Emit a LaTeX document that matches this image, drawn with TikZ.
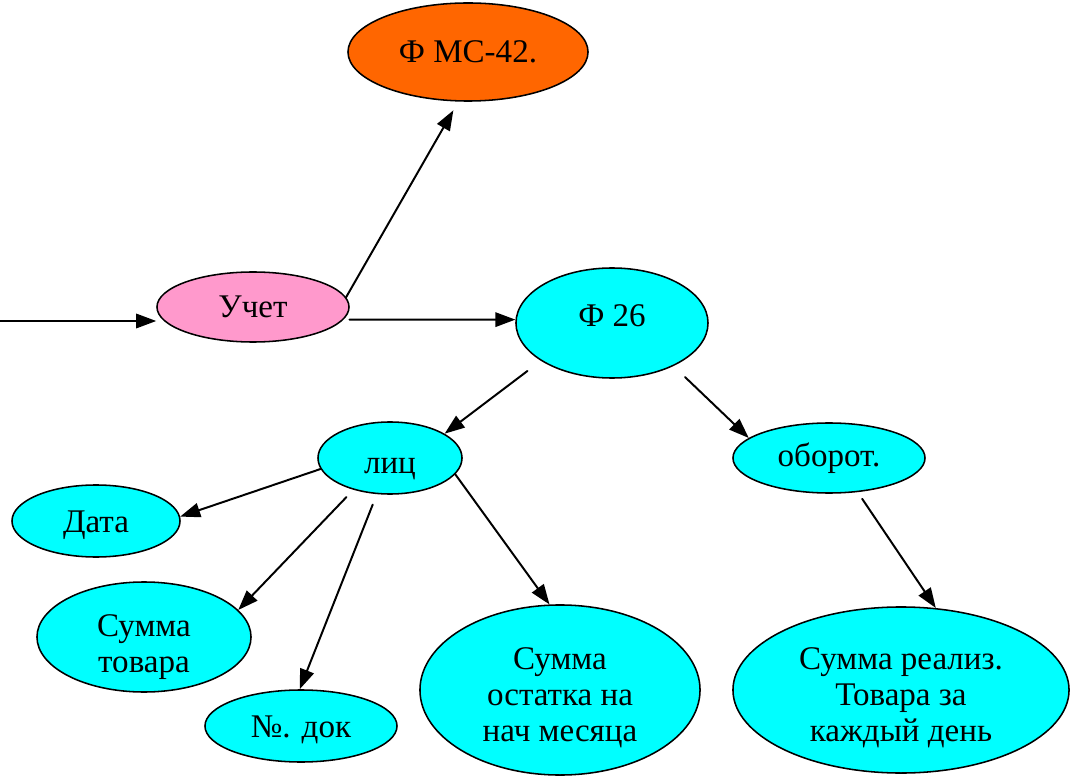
\documentclass[tikz,border=0pt]{standalone}
\usepackage{fontspec}
\setmainfont{Liberation Serif}
\newfontfamily\ovalfont{Liberation Serif}
\usetikzlibrary{shapes.geometric}
\usetikzlibrary{arrows.meta}
\definecolor{fmsorange}{HTML}{FF6600}
\definecolor{uchetpink}{HTML}{FF99CC}
\definecolor{ovalcyan}{HTML}{00FFFF}
\tikzstyle{every node}=[font=\ovalfont\fontsize{23.5}{25.5}\selectfont]
\tikzstyle{every path}=[line width=1.4pt,line cap=round,line join=round]
\tikzstyle{oval}=[ellipse,draw,line width=1.1pt,fill=ovalcyan,inner sep=0pt,align=center]
\tikzstyle{arr}=[-{Triangle[length=0.5cm,width=0.36cm]}]
\newcommand{\ovaltext}[2][0cm]{\raisebox{#1}[\height][\depth]{\begin{tabular}{@{}c@{}}#2\end{tabular}}}

\begin{document}
\begin{tikzpicture}[x=0.025cm,y=-0.025cm]
  \useasboundingbox (0,0) rectangle (1078,780);
  % top part
  \node[oval,fill=fmsorange,minimum width=6cm,minimum height=2.45cm] (fms) at (468,52) {Ф МС-42.};
  \node[oval,fill=uchetpink,minimum width=4.8cm,minimum height=1.75cm] (uchet) at (253,307) {Учет};
  \node[oval,minimum width=4.8cm,minimum height=2.75cm] (f26) at (612,323) {\ovaltext[0.1cm]{Ф 26}};
  % middle row
  \node[oval,minimum width=3.6cm,minimum height=1.8cm] (lic) at (390,458) {\ovaltext[-0.2cm]{лиц}};
  \node[oval,minimum width=4.8cm,minimum height=1.75cm] (oborot) at (829,458) {оборот.};
  % bottom part
  \node[oval,minimum width=4.2cm,minimum height=1.8cm] (data) at (96,521) {\ovaltext[-0.1cm]{Дата}};
  \node[oval,minimum width=5.35cm,minimum height=2.75cm] (sumtov) at (144,637) {\ovaltext[-0.25cm]{Сумма\\товара}};
  \node[oval,minimum width=4.8cm,minimum height=1.8cm] (nomdok) at (301,726) {\ovaltext[-0.1cm]{№. док}};
  \node[oval,minimum width=7cm,minimum height=4.25cm] (sumost) at (560,690) {\ovaltext[-0.2cm]{Сумма\\остатка на\\нач месяца}};
  \node[oval,minimum width=8.4cm,minimum height=4.15cm] (sumreal) at (901,690) {\ovaltext[-0.2cm]{Сумма реализ.\\Товара за\\каждый день}};
  \coordinate (in) at (0,321);

  \draw[arr] (in) -- (in -| uchet.west);
  \draw[arr,shorten >=0.25cm] (uchet.6) -- (fms.259);
  \draw[arr,shorten <=0.15cm] (uchet.352) -- (f26.178);
  \draw[arr,shorten <=0.42cm] (f26.208) -- (lic.24);
  \draw[arr,shorten <=0.4cm] (f26.-35) -- (oborot.166);
  \draw[arr] (lic.189) -- (data.3);
  \draw[arr,shorten <=0.25cm] (lic.221) -- (sumtov.16);
  \draw[arr,shorten <=0.28cm] (lic.250) -- (nomdok.92);
  \draw[arr] (lic.-14) -- (sumost.97);
  \draw[arr,shorten <=0.2cm] (oborot.-50) -- (sumreal.67);
\end{tikzpicture}
\end{document}
